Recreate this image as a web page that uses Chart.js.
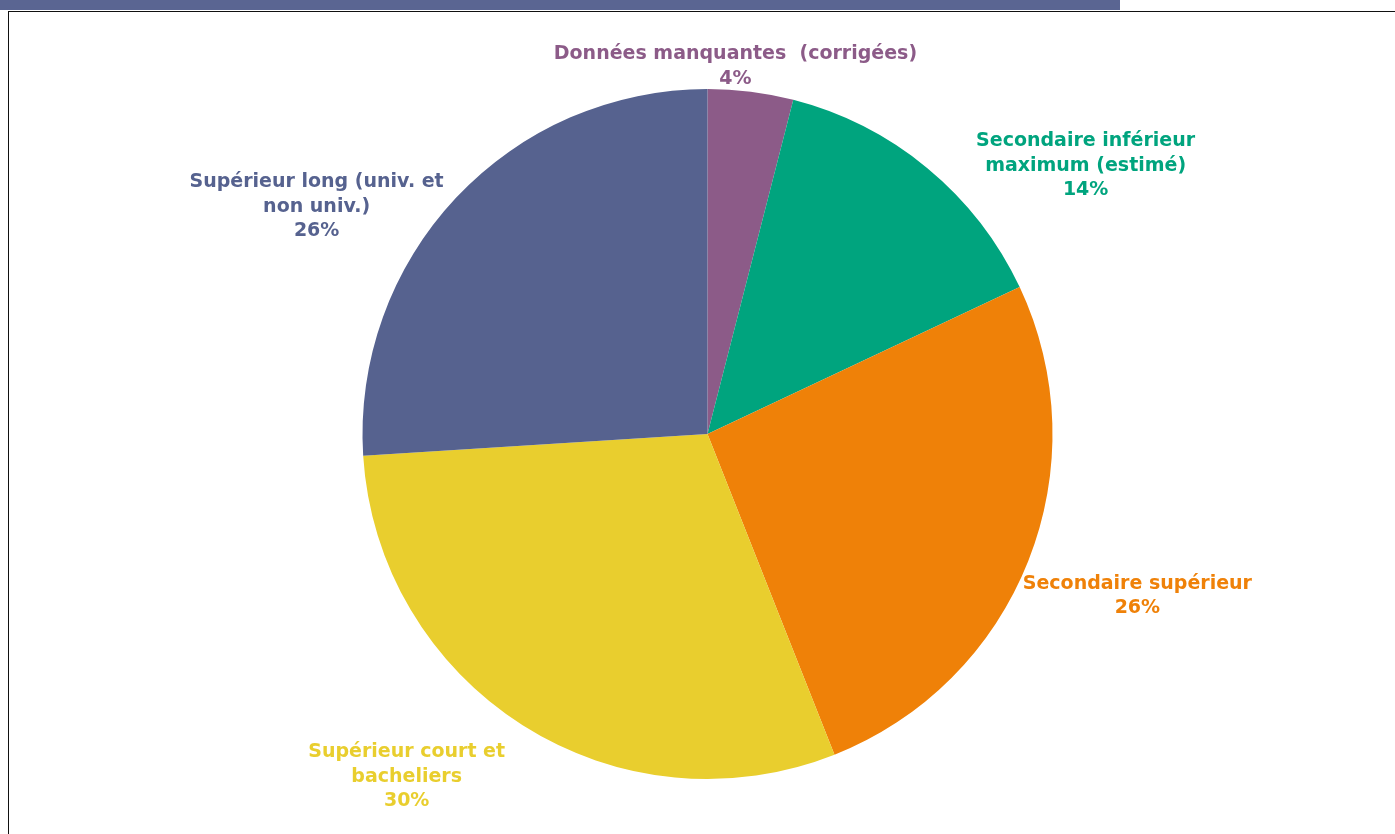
<!DOCTYPE html>
<html lang="fr">
<head>
<meta charset="utf-8">
<title>Répartition par niveau de diplôme</title>
<script src="https://cdn.jsdelivr.net/npm/chart.js@4/dist/chart.umd.min.js"></script>
<style>
  html, body { margin: 0; padding: 0; background: #ffffff; }
  body { width: 1395px; height: 834px; position: relative; overflow: hidden; }
  .bandeau { position: absolute; left: 0; top: 0; width: 1120px; height: 10px; background: #5a6592; }
  .cadre { position: absolute; left: 8px; top: 11px; width: 1400px; height: 840px;
           border-top: 1.5px solid #111; border-left: 1.5px solid #111; }
  .zone { position: absolute; left: 0; top: 0; width: 1395px; height: 834px; }
</style>
</head>
<body>
<div class="bandeau"></div>
<div class="cadre"></div>
<div class="zone"><canvas id="camembert"></canvas></div>
<script>
// Catégories (libellés sur plusieurs lignes), dans l'ordre horaire depuis midi
const categories = [
  ["Données manquantes  (corrigées)"],
  ["Secondaire inférieur", "maximum (estimé)"],
  ["Secondaire supérieur"],
  ["Supérieur court et", "bacheliers"],
  ["Supérieur long (univ. et", "non univ.)"]
];
// Parts en pourcentage
const parts = [4, 14, 26, 30, 26];
const couleurs = ["#8c5b88", "#00a47e", "#ef8108", "#e9ce2e", "#56628f"];

// Emplacement du centre de chaque étiquette, en rayons par rapport au centre du disque
const placementEtiquettes = [
  [0.081, -1.065],
  [1.096, -0.777],
  [1.246, 0.470],
  [-0.872, 0.994],
  [-1.133, -0.658]
];

const etiquettes = {
  id: "etiquettes",
  afterDatasetsDraw(chart) {
    const ctx = chart.ctx;
    const meta = chart.getDatasetMeta(0);
    const hauteurLigne = 24.5;
    ctx.save();
    ctx.font = "bold 19px 'DejaVu Sans'";
    ctx.textAlign = "center";
    ctx.textBaseline = "middle";
    meta.data.forEach((arc, i) => {
      const lignes = categories[i].concat([parts[i] + "%"]);
      const cx = arc.x + placementEtiquettes[i][0] * arc.outerRadius;
      const cy = arc.y + placementEtiquettes[i][1] * arc.outerRadius;
      const y0 = cy - (lignes.length - 1) * hauteurLigne / 2;
      ctx.fillStyle = couleurs[i];
      lignes.forEach((t, k) => ctx.fillText(t, cx, y0 + k * hauteurLigne));
    });
    ctx.restore();
  }
};

new Chart(document.getElementById("camembert"), {
  type: "pie",
  data: {
    labels: categories.map(l => l.join(" ")),
    datasets: [{
      data: parts,
      backgroundColor: couleurs,
      borderWidth: 0,
      hoverOffset: 0
    }]
  },
  options: {
    responsive: true,
    maintainAspectRatio: false,
    animation: false,
    layout: { padding: { top: 89, bottom: 55, left: 20, right: 0 } },
    plugins: {
      legend: { display: false },
      tooltip: { enabled: false }
    }
  },
  plugins: [etiquettes]
});
</script>
</body>
</html>
